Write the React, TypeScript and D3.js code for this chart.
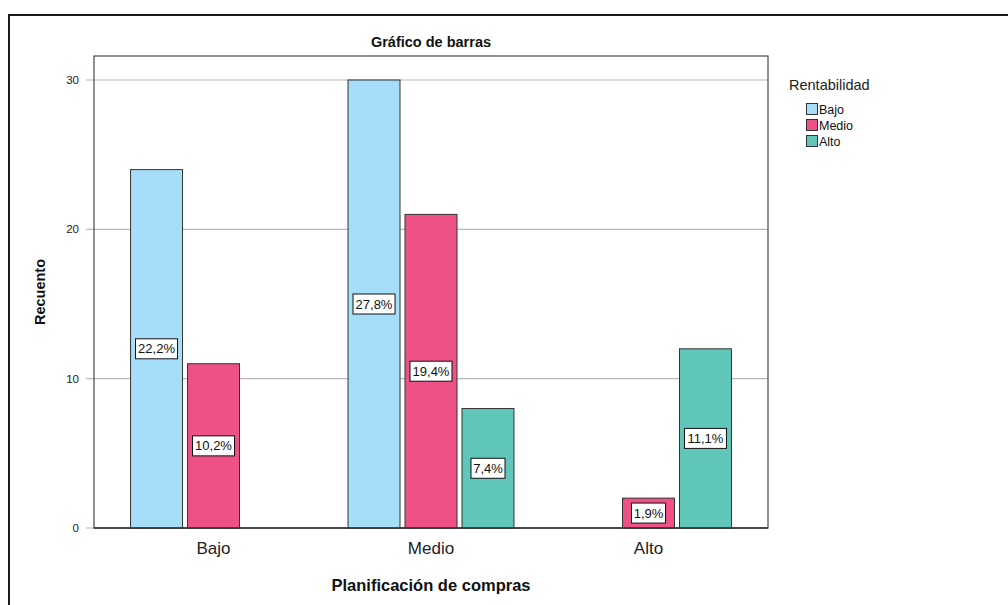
import React from "react";
import * as d3 from "d3";

const categories = ["Bajo", "Medio", "Alto"];
const series = ["Bajo", "Medio", "Alto"];
const seriesColors = ["#A6DDF8", "#EE5186", "#60C6B9"];
const valuesBajo = [24, 30, 0];
const valuesMedio = [11, 21, 2];
const valuesAlto = [0, 8, 12];
const labelsBajo = ["22,2%", "27,8%", ""];
const labelsMedio = ["10,2%", "19,4%", "1,9%"];
const labelsAlto = ["", "7,4%", "11,1%"];
const yTicks = [0, 10, 20, 30];

const W = 1008;
const H = 605;
const plot = { left: 94, right: 768, top: 56, bottom: 528 };
const FONT = "'Liberation Sans', Arial, sans-serif";

export default function App() {
  const y = d3.scaleLinear().domain([0, 30]).range([plot.bottom, 80]);
  const x0 = d3
    .scaleBand<string>()
    .domain(categories)
    .range([plot.left, plot.right])
    .paddingInner(0.237)
    .paddingOuter(0.168);
  const x1 = d3
    .scaleBand<string>()
    .domain(series)
    .range([0, x0.bandwidth()])
    .paddingInner(0.088);

  const valueSets = [valuesBajo, valuesMedio, valuesAlto];
  const labelSets = [labelsBajo, labelsMedio, labelsAlto];

  const bars: any[] = [];
  categories.forEach((c, ci) => {
    series.forEach((s, si) => {
      const v = valueSets[si][ci];
      if (v <= 0) return;
      bars.push({
        key: c + s,
        x: (x0(c) as number) + (x1(s) as number),
        w: x1.bandwidth(),
        yTop: y(v),
        yBot: y(0),
        color: seriesColors[si],
        label: labelSets[si][ci],
        mid: y(v / 2),
      });
    });
  });

  return (
    <div style={{ position: "absolute", left: 0, top: 0 }}>
      <svg width={W} height={H} style={{ display: "block", background: "#fff" }}>
        {/* outer border */}
        <rect x={9} y={15} width={1100} height={700} fill="#fff" stroke="#1a1a1a" strokeWidth={2} />
        {/* title */}
        <text x={(plot.left + plot.right) / 2} y={47} textAnchor="middle" fontFamily={FONT} fontWeight="bold" fontSize={14.5} fill="#111">
          Gráfico de barras
        </text>
        {/* gridlines and ticks */}
        {yTicks.map((t) => (
          <g key={t}>
            <line x1={86} x2={plot.right} y1={y(t)} y2={y(t)} stroke="#b8b8b8" strokeWidth={1.2} />
            <text x={79} y={y(t) + 4} textAnchor="end" fontFamily={FONT} fontSize={11.5} fill="#222">
              {t}
            </text>
          </g>
        ))}
        {/* frame */}
        <rect x={plot.left} y={plot.top} width={plot.right - plot.left} height={plot.bottom - plot.top} fill="none" stroke="#555" strokeWidth={1.3} />
        {/* bars */}
        {bars.map((b) => (
          <rect key={b.key} x={b.x} y={b.yTop} width={b.w} height={b.yBot - b.yTop} fill={b.color} stroke="#333" strokeWidth={1} />
        ))}
        <line x1={plot.left} x2={plot.right} y1={plot.bottom} y2={plot.bottom} stroke="#333" strokeWidth={1.3} />
        {/* value labels */}
        {bars.map((b) => {
          const tw = b.label.length * 8 + 2;
          const cx = b.x + b.w / 2;
          return (
            <g key={b.key + "l"}>
              <rect x={cx - tw / 2} y={b.mid - 10} width={tw} height={20} fill="#fff" stroke="#111" strokeWidth={1} />
              <text x={cx} y={b.mid + 4.5} textAnchor="middle" fontFamily={FONT} fontSize={13} fill="#111">
                {b.label}
              </text>
            </g>
          );
        })}
        {/* x category labels */}
        {categories.map((c) => (
          <text key={c} x={(x0(c) as number) + x0.bandwidth() / 2} y={554} textAnchor="middle" fontFamily={FONT} fontSize={17} fill="#222">
            {c}
          </text>
        ))}
        {/* axis titles */}
        <text x={(plot.left + plot.right) / 2} y={591} textAnchor="middle" fontFamily={FONT} fontWeight="bold" fontSize={16.5} fill="#111">
          Planificación de compras
        </text>
        <text transform={`translate(45, ${(plot.top + plot.bottom) / 2}) rotate(-90)`} textAnchor="middle" fontFamily={FONT} fontWeight="bold" fontSize={14.5} fill="#111">
          Recuento
        </text>
        {/* legend */}
        <text x={789} y={90} fontFamily={FONT} fontSize={14.5} fill="#222">
          Rentabilidad
        </text>
        {series.map((s, i) => (
          <g key={s} transform={`translate(806, ${103 + i * 16})`}>
            <rect x={0.5} y={0.5} width={11} height={11} fill={seriesColors[i]} stroke="#333" strokeWidth={1} />
            <text x={13} y={10.5} fontFamily={FONT} fontSize={12.5} fill="#111">
              {s}
            </text>
          </g>
        ))}
      </svg>
    </div>
  );
}
